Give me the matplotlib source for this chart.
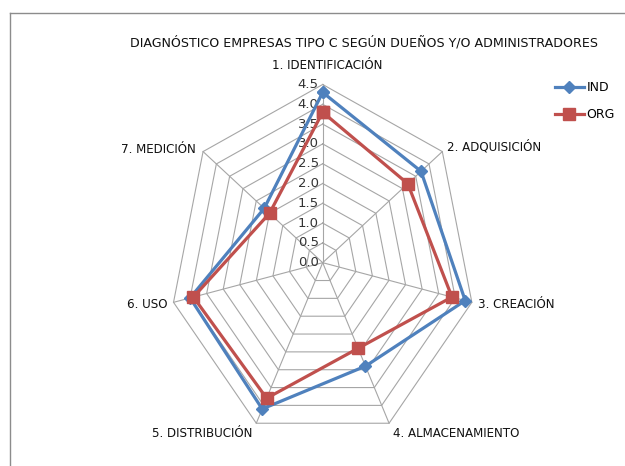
import matplotlib
matplotlib.use("Agg")
import matplotlib.pyplot as plt
from matplotlib.lines import Line2D
import numpy as np

plt.rcParams["font.family"] = ["DejaVu Sans"]

# data
categories = ["1. IDENTIFICACIÓN", "2. ADQUISICIÓN", "3. CREACIÓN", "4. ALMACENAMIENTO",
              "5. DISTRIBUCIÓN", "6. USO", "7. MEDICIÓN"]
ind_values = [4.3, 3.7, 4.3, 2.9, 4.1, 4.0, 2.2]
org_values = [3.8, 3.2, 3.9, 2.4, 3.8, 3.9, 2.0]
ring_values = [0.0, 0.5, 1.0, 1.5, 2.0, 2.5, 3.0, 3.5, 4.0, 4.5]
title = "DIAGNÓSTICO EMPRESAS TIPO C SEGÚN DUEÑOS Y/O ADMINISTRADORES"

BLUE = "#4F81BD"
RED = "#C0504D"
GRID = "#A6A6A6"

fig = plt.figure(figsize=(6.25, 4.66), dpi=100)
ax = fig.add_axes([0.2715, 0.0539, 0.4896, 0.7648], projection="polar")
ax.set_aspect("auto")
ax.set_theta_zero_location("N")
ax.set_theta_direction(-1)
ax.set_ylim(0, ring_values[-1])
ax.grid(False)
ax.spines["polar"].set_visible(False)
ax.set_xticks([])
ax.set_yticks([])
ax.patch.set_visible(False)

n = len(categories)
theta = np.linspace(0, 2 * np.pi, n, endpoint=False)
theta_c = np.append(theta, theta[0])
rmax = ring_values[-1]

# polygon grid
for r in ring_values[1:]:
    ax.plot(theta_c, [r] * (n + 1), color=GRID, lw=0.8, clip_on=False, zorder=1)
for t in theta:
    ax.plot([t, t], [0, rmax], color=GRID, lw=0.8, clip_on=False, zorder=1)

# radial labels
for r in ring_values:
    ax.annotate(f"{r:.1f}", xy=(0, r), xytext=(-4, 0), textcoords="offset pixels",
                ha="right", va="center", fontsize=9.5, color="#333333")

# series
ax.plot(theta_c, ind_values + ind_values[:1], color=BLUE, lw=2.3, marker="D",
        ms=6, clip_on=False, zorder=3, label="IND")
ax.plot(theta_c, org_values + org_values[:1], color=RED, lw=2.3, marker="s",
        ms=8, clip_on=False, zorder=4, label="ORG")

# category labels
offsets = [(4, 19, "center"), (5, 5, "left"), (6, -2, "left"), (4, -10, "left"),
           (-4, -10, "right"), (-6, -2, "right"), (-7, 2, "right")]
for t, lab, (dx, dy, ha) in zip(theta, categories, offsets):
    ax.annotate(lab, xy=(t, rmax), xytext=(dx, dy), textcoords="offset pixels",
                ha=ha, va="center", fontsize=8.6, color="#111111")

fig.text(364 / 625, 1 - 43 / 466, title, ha="center", va="center", fontsize=9.1,
         color="#111111")

fig.legend(loc="center left", bbox_to_anchor=(555 / 625, 1 - 101 / 466), frameon=False,
           fontsize=9, handlelength=2.3, handletextpad=0.2, labelspacing=1.1,
           borderpad=0, borderaxespad=0)

# chart frame (top and left edges visible)
fig.add_artist(Line2D([10 / 625, 10 / 625], [0, 1 - 13 / 466], color="#8C8C8C", lw=1,
                      transform=fig.transFigure))
fig.add_artist(Line2D([10 / 625, 1], [1 - 13 / 466, 1 - 13 / 466], color="#8C8C8C", lw=1,
                      transform=fig.transFigure))

fig.savefig("out.png", dpi=100)
